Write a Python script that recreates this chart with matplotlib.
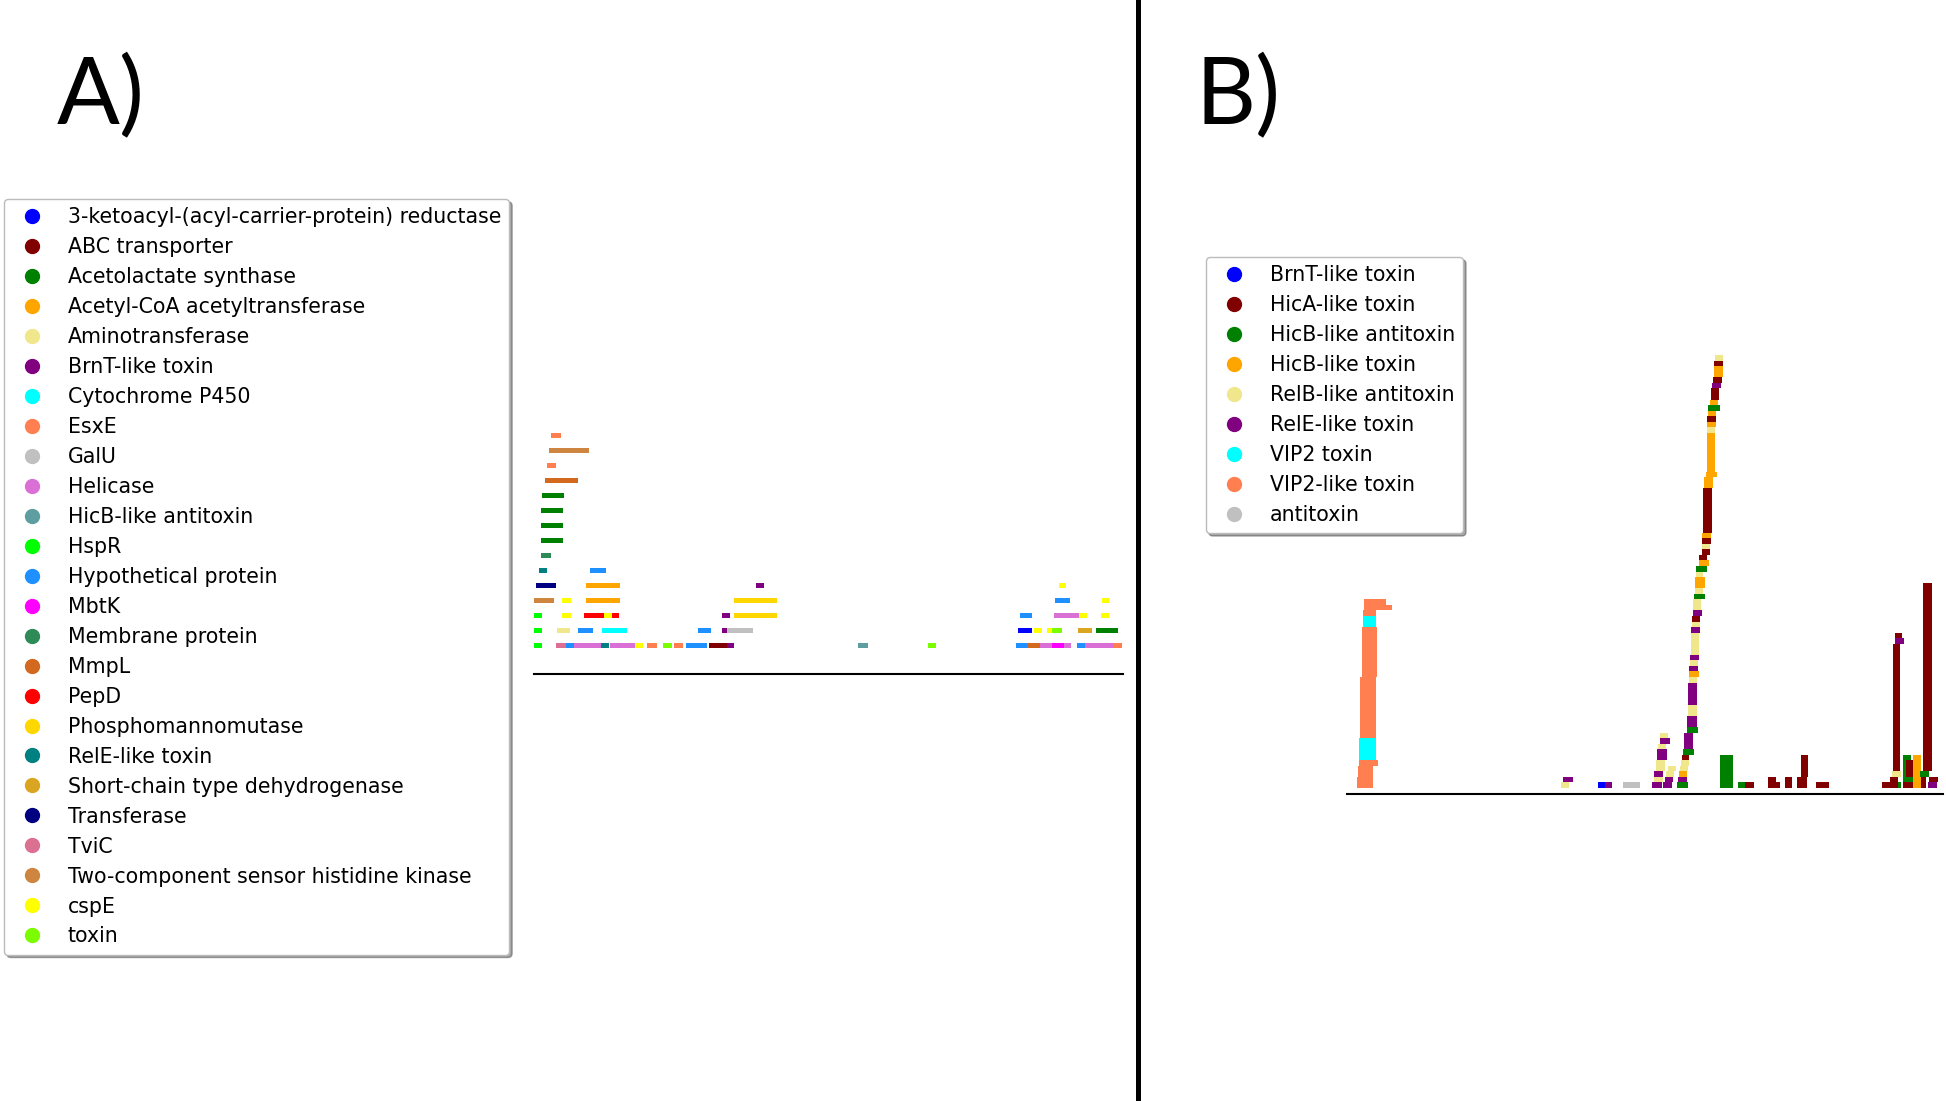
import matplotlib
matplotlib.use("Agg")
import matplotlib.pyplot as plt
from matplotlib.lines import Line2D

W, H = 1946, 1101

# ---- panel A: genes around the insertion, one row per stacked gene ----
a_labels = {
    'ketoR': '3-ketoacyl-(acyl-carrier-protein) reductase', 'abc': 'ABC transporter',
    'als': 'Acetolactate synthase', 'acat': 'Acetyl-CoA acetyltransferase',
    'amt': 'Aminotransferase', 'brnT': 'BrnT-like toxin', 'p450': 'Cytochrome P450',
    'esxE': 'EsxE', 'galU': 'GalU', 'hel': 'Helicase', 'hicB': 'HicB-like antitoxin',
    'hspR': 'HspR', 'hyp': 'Hypothetical protein', 'mbtK': 'MbtK',
    'mem': 'Membrane protein', 'mmpL': 'MmpL', 'pepD': 'PepD',
    'pmm': 'Phosphomannomutase', 'relE': 'RelE-like toxin',
    'sdr': 'Short-chain type dehydrogenase', 'trf': 'Transferase', 'tviC': 'TviC',
    'tcs': 'Two-component sensor histidine kinase', 'cspE': 'cspE', 'tox': 'toxin',
}
a_colors = {
    'ketoR': 'blue', 'abc': 'maroon', 'als': 'green', 'acat': 'orange', 'amt': 'khaki',
    'brnT': 'purple', 'p450': 'cyan', 'esxE': 'coral', 'galU': 'silver', 'hel': 'orchid',
    'hicB': 'cadetblue', 'hspR': 'lime', 'hyp': 'dodgerblue', 'mbtK': 'magenta',
    'mem': 'seagreen', 'mmpL': 'chocolate', 'pepD': 'red', 'pmm': 'gold', 'relE': 'teal',
    'sdr': 'goldenrod', 'trf': 'navy', 'tviC': 'palevioletred', 'tcs': 'peru',
    'cspE': 'yellow', 'tox': 'lawngreen',
}

a_start = [0, 22, 32, 40, 67, 76, 101, 113, 129, 140, 152, 175, 193, 324, 394, 482, 493, 506, 518, 530, 543, 551, 580,
           0, 23, 44, 68, 164, 188, 193, 484, 500, 513, 518, 544, 562,
           0, 28, 50, 70, 78, 188, 200, 486, 520, 545, 567,
           0, 28, 52, 200, 521, 568,
           2, 52, 222, 525,
           5, 56,
           7, 7, 7, 7, 8, 11, 13, 15, 17]
a_end = [8, 32, 40, 67, 75, 101, 109, 123, 138, 149, 173, 193, 200, 334, 402, 493, 506, 518, 530, 537, 551, 580, 588,
         8, 36, 59, 93, 177, 193, 219, 498, 508, 518, 528, 558, 584,
         8, 37, 70, 78, 85, 196, 243, 498, 545, 553, 575,
         20, 37, 86, 243, 536, 575,
         22, 86, 230, 532,
         13, 72,
         17, 29, 29, 29, 30, 44, 22, 55, 27]
a_row = [0] * 23 + [1] * 13 + [2] * 11 + [3] * 6 + [4] * 4 + [5] * 2 + [6, 7, 8, 9, 10, 11, 12, 13, 14]
a_gene = ['hspR', 'tviC', 'hyp', 'hel', 'relE', 'hel', 'cspE', 'esxE', 'tox', 'esxE', 'hyp', 'abc', 'brnT',
          'hicB', 'tox', 'hyp', 'mmpL', 'hel', 'mbtK', 'hel', 'hyp', 'hel', 'esxE',
          'hspR', 'amt', 'hyp', 'p450', 'hyp', 'brnT', 'galU', 'ketoR', 'cspE', 'cspE', 'tox', 'sdr', 'als',
          'hspR', 'cspE', 'pepD', 'cspE', 'pepD', 'brnT', 'pmm', 'hyp', 'hel', 'cspE', 'cspE',
          'tcs', 'cspE', 'acat', 'pmm', 'hyp', 'cspE',
          'trf', 'acat', 'brnT', 'cspE',
          'relE', 'hyp',
          'mem', 'als', 'als', 'als', 'als', 'mmpL', 'esxE', 'tcs', 'esxE']

# ---- panel B: toxin / antitoxin genes, runs of stacked levels ----
b_labels = {
    'brnT': 'BrnT-like toxin', 'hicA': 'HicA-like toxin', 'hicBa': 'HicB-like antitoxin',
    'hicBt': 'HicB-like toxin', 'relB': 'RelB-like antitoxin', 'relE': 'RelE-like toxin',
    'vip2': 'VIP2 toxin', 'vip2l': 'VIP2-like toxin', 'anti': 'antitoxin',
}
b_colors = {
    'brnT': 'blue', 'hicA': 'maroon', 'hicBa': 'green', 'hicBt': 'orange', 'relB': 'khaki',
    'relE': 'purple', 'vip2': 'cyan', 'vip2l': 'coral', 'anti': 'silver',
}

b_start = [10, 11, 12, 12, 13, 15, 16, 16, 17, 39,
           214, 216, 251, 258, 276,
           305, 307, 307, 309, 310, 311, 313, 313,
           316, 318, 319, 321,
           330, 331, 332, 333, 334, 335, 336, 337, 340, 340, 341, 341, 342, 342, 342, 343, 343, 344,
           344, 345, 345, 346, 346, 347, 348, 348, 349, 349, 352, 352, 355, 355, 355, 355, 356, 357,
           359, 360, 360, 360, 360, 361, 361, 363, 364, 365, 366, 367, 367, 368,
           373, 391, 398, 421, 421, 438, 450, 454, 469,
           535, 543, 545, 546, 548, 548, 551, 556, 556, 556, 559, 571, 566, 573, 576, 581, 582]
b_end = [26, 26, 31, 29, 29, 30, 29, 29, 39, 45,
         222, 226, 258, 265, 293,
         315, 316, 316, 318, 320, 319, 323, 321,
         325, 326, 327, 329,
         341, 340, 340, 341, 342, 342, 347, 346, 351, 350, 350, 350, 350, 352, 351, 351, 352, 352,
         353, 353, 353, 355, 354, 358, 356, 358, 356, 360, 362, 360, 363, 363, 364, 364, 365, 366,
         370, 368, 368, 369, 369, 369, 373, 371, 372, 374, 375, 376, 376, 376,
         386, 398, 407, 433, 429, 445, 460, 461, 482,
         543, 551, 554, 553, 557, 555, 554, 564, 566, 566, 566, 579, 574, 582, 585, 590, 591]
b_row = [0, 2, 4, 5, 9, 20, 29, 31, 32, 32,
         0, 1, 0, 0, 0,
         0, 1, 2, 3, 5, 7, 8, 9,
         0, 1, 2, 3,
         0, 1, 2, 3, 4, 5, 6, 7, 10, 11, 13, 15, 19, 20, 21, 22, 23, 24,
         28, 29, 30, 31, 32, 34, 35, 36, 38, 39, 40, 41, 42, 43, 44, 45, 46, 54,
         56, 57, 64, 65, 66, 67, 68, 69, 70, 72, 73, 74, 76, 77,
         0, 0, 0, 0, 1, 0, 0, 2, 0,
         0, 0, 2, 3, 26, 27, 0, 0, 0, 1, 2, 0, 0, 2, 3, 0, 1]
b_rows = [2, 2, 1, 4, 11, 9, 2, 1, 2, 1,
          1, 1, 1, 1, 1,
          1, 1, 1, 2, 2, 1, 1, 1,
          1, 1, 1, 1,
          1, 1, 1, 1, 1, 1, 1, 3, 1, 2, 2, 4, 1, 1, 1, 1, 1, 4,
          1, 1, 1, 1, 2, 1, 1, 2, 1, 1, 1, 1, 1, 1, 1, 1, 8, 2,
          1, 7, 1, 1, 1, 1, 1, 1, 2, 1, 1, 2, 1, 1,
          6, 1, 1, 1, 1, 2, 2, 4, 1,
          1, 2, 1, 23, 1, 1, 1, 6, 1, 1, 3, 2, 6, 1, 34, 1, 1]
b_gene = ['vip2l', 'vip2l', 'vip2l', 'vip2', 'vip2l', 'vip2l', 'vip2', 'vip2l', 'vip2l', 'vip2l',
          'relB', 'relE', 'brnT', 'relE', 'anti',
          'relE', 'relB', 'relE', 'relB', 'relE', 'relB', 'relE', 'relB',
          'relE', 'relE', 'relB', 'relB',
          'hicBa', 'relE', 'hicBt', 'relB', 'relB', 'hicA', 'hicBa', 'relE', 'hicBa', 'relE', 'relB',
          'relE', 'relB', 'hicBt', 'relE', 'relB', 'relE', 'relB',
          'relE', 'relB', 'hicA', 'relE', 'relB', 'hicBa', 'relB', 'hicBt', 'relB', 'hicBa', 'hicBt',
          'hicA', 'hicA', 'relB', 'hicA', 'hicBt', 'hicA', 'hicBt',
          'hicBt', 'hicBt', 'relB', 'hicBt', 'hicA', 'hicBt', 'hicBa', 'hicBt', 'hicA', 'relE', 'hicA',
          'hicBt', 'hicA', 'relB',
          'hicBa', 'hicBa', 'hicA', 'hicA', 'hicA', 'hicA', 'hicA', 'hicA', 'hicA',
          'hicA', 'hicA', 'relB', 'hicA', 'relE', 'hicA', 'hicBa', 'hicBa', 'hicA', 'hicBa', 'hicA',
          'hicA', 'hicBt', 'hicBa', 'hicA', 'relE', 'hicA']

fig = plt.figure(figsize=(W / 100, H / 100), dpi=100)


def style_axis(ax):
    for side in ['top', 'left', 'right']:
        ax.spines[side].set_visible(False)
    ax.spines['bottom'].set_linewidth(1.5)
    ax.spines['bottom'].set_color('black')
    ax.set_xticks([])
    ax.set_yticks([])
    ax.patch.set_alpha(0)


axA = fig.add_axes([534 / W, 1 - 674 / H, 589 / W, (674 - 425) / H])
axA.barh(a_row, [e - s for s, e in zip(a_start, a_end)], left=a_start, height=0.34,
         color=[a_colors[g] for g in a_gene], edgecolor='none')
axA.set_xlim(0, 589)
axA.set_ylim(-1.89, 14.71)
style_axis(axA)

axB = fig.add_axes([1347 / W, 1 - 794 / H, 596 / W, (794 - 350) / H])
axB.bar(b_start, b_rows, width=[e - s for s, e in zip(b_start, b_end)], bottom=b_row,
        align='edge', color=[b_colors[g] for g in b_gene], edgecolor='none')
axB.set_xlim(0, 596)
axB.set_ylim(-1.08, 78.92)
style_axis(axB)

legend_kw = dict(loc='upper left', bbox_transform=fig.transFigure, fontsize=14.8, shadow=True,
                 fancybox=True, labelspacing=0.485, handlelength=1.9, borderaxespad=0,
                 framealpha=1, edgecolor='#bbbbbb')

handles = [Line2D([], [], marker='o', linestyle='', color=a_colors[k], markersize=10) for k in a_labels]
fig.legend(handles, list(a_labels.values()), bbox_to_anchor=(4 / W, 1 - 199 / H), **legend_kw)

handles = [Line2D([], [], marker='o', linestyle='', color=b_colors[k], markersize=10) for k in b_labels]
fig.legend(handles, list(b_labels.values()), bbox_to_anchor=(1206 / W, 1 - 257 / H), **legend_kw)

fig.text(57 / W, 1 - 124 / H, 'A)', fontsize=67, family='Lato', va='baseline')
fig.text(1195 / W, 1 - 124 / H, 'B)', fontsize=67, family='Lato', va='baseline')

fig.add_artist(Line2D([1138 / W, 1138 / W], [1, 1 - 1098 / H], color='black', lw=3.6,
                      transform=fig.transFigure))

fig.savefig('out.png', dpi=100, facecolor='white')
